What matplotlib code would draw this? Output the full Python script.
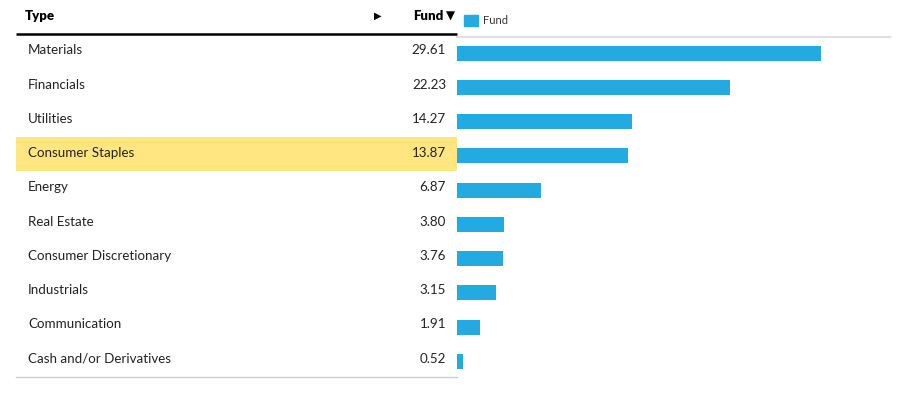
import matplotlib
matplotlib.use("Agg")
import matplotlib.pyplot as plt
from matplotlib.patches import Rectangle

plt.rcParams['font.family'] = ['Lato', 'DejaVu Sans']

categories = ["Materials", "Financials", "Utilities", "Consumer Staples", "Energy",
              "Real Estate", "Consumer Discretionary", "Industrials", "Communication",
              "Cash and/or Derivatives"]
fund = [29.61, 22.23, 14.27, 13.87, 6.87, 3.80, 3.76, 3.15, 1.91, 0.52]
value_labels = ["29.61", "22.23", "14.27", "13.87", "6.87", "3.80", "3.76", "3.15", "1.91", "0.52"]
highlight = "Consumer Staples"

W, H = 910, 394
fig = plt.figure(figsize=(W / 100, H / 100), dpi=100)

def px_axes(x0, y0, x1, y1):
    return fig.add_axes([x0 / W, 1 - y1 / H, (x1 - x0) / W, (y1 - y0) / H])

n = len(categories)
row_top, row_h = 34.0, 34.25
ax_t = px_axes(16, row_top, 457, row_top + n * row_h)
ax_b = px_axes(457, row_top, 890, row_top + n * row_h)
for ax in (ax_t, ax_b):
    ax.set_ylim(n - 0.5, -0.5)
    ax.axis("off")

# table
ax_t.set_xlim(16, 457)
for i, (c, v) in enumerate(zip(categories, value_labels)):
    if c == highlight:
        ax_t.add_patch(Rectangle((16, i - 0.5), 441, 1.0, color="#FFE680", lw=0, zorder=0))
    ax_t.text(28, i - 0.02, c, va="center", ha="left", fontsize=9.6, color="#222222")
    ax_t.text(446, i - 0.02, v, va="center", ha="right", fontsize=9.6, color="#222222")
ax_t.plot([16, 457], [-0.5, -0.5], color="black", lw=1.8, clip_on=False, solid_capstyle="butt")
ax_t.plot([16, 457], [n - 0.5 + 0.02, n - 0.5 + 0.02], color="#cccccc", lw=1.0, clip_on=False)

# bars
xmax = 29.61 * 433 / 364
ax_b.set_xlim(0, xmax)
ax_b.barh([i + 0.06 for i in range(n)], fund, height=0.44, color="#23ABE1", left=0)
ax_b.plot([0, xmax], [-0.42, -0.42], color="#e0e0e0", lw=1.5, clip_on=False)

# header
fig.text(25 / W, 1 - 16 / H, "Type", fontsize=9.5, fontweight="heavy", va="center", ha="left", color="black")
fig.text(378 / W, 1 - 16 / H, "▶", fontsize=7, va="center", ha="center", color="black",
         family="DejaVu Sans")
fig.text(444 / W, 1 - 16 / H, "Fund", fontsize=9.5, fontweight="heavy", va="center", ha="right", color="black")
fig.text(446 / W, 1 - 16 / H, "▼", fontsize=8.5, va="center", ha="left", color="black",
         family="DejaVu Sans")

# legend
fig.patches.append(Rectangle((464 / W, 1 - 26 / H), 14 / W, 11 / H, color="#23ABE1",
                             transform=fig.transFigure, figure=fig))
fig.text(483 / W, 1 - 20.5 / H, "Fund", fontsize=8, va="center", ha="left", color="#333333")

fig.savefig("out.png", dpi=100, facecolor="white")
